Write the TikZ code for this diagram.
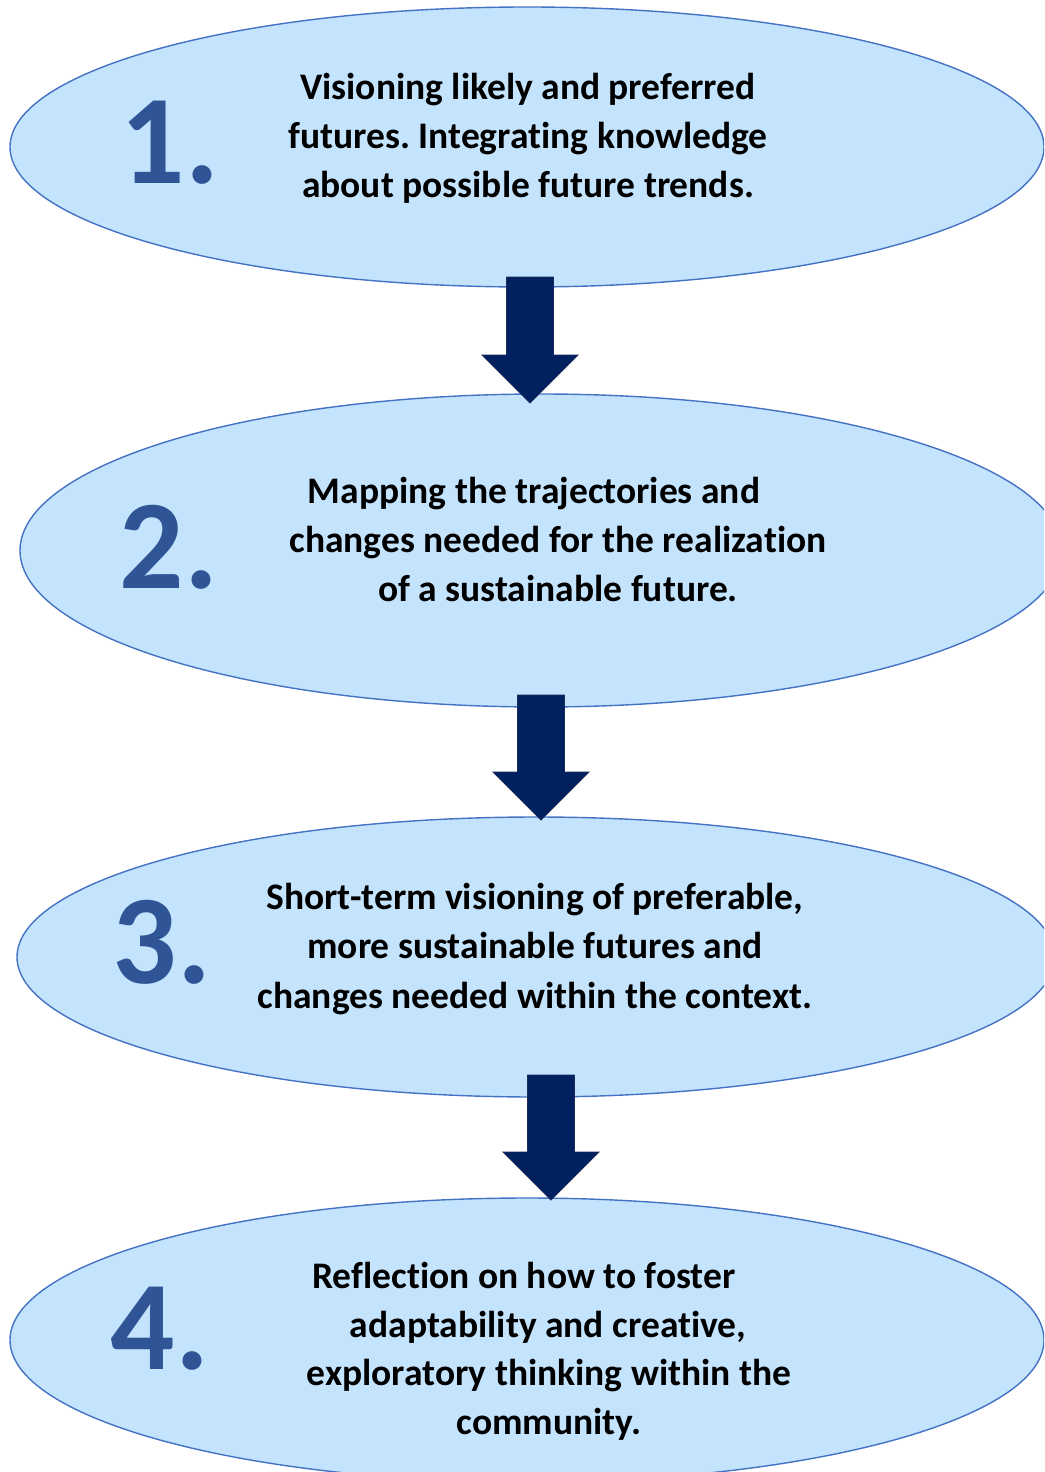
\documentclass[tikz,border=0pt]{standalone}
\usepackage{fontspec}
\setmainfont{Carlito}[Ligatures={NoCommon,NoRare,NoContextual}]
\frenchspacing
\usetikzlibrary{shapes.geometric,calc}
\definecolor{ellfill}{HTML}{C4E3FD}
\definecolor{elldraw}{HTML}{4472C4}
\definecolor{numblue}{HTML}{2F5597}
\definecolor{arrfill}{HTML}{002060}
\definecolor{arrdraw}{HTML}{1A2B5C}
\tikzset{
  stage/.style={ellipse, draw=elldraw, fill=ellfill, line width=1.4pt, inner sep=0pt},
  numtxt/.style={anchor=base, text=numblue, font=\bfseries\fontsize{127}{127}\selectfont, inner sep=0pt},
  linetxt/.style={anchor=base, text=black, font=\bfseries\fontsize{37.5}{45}\selectfont, inner sep=0pt},
  blockarr/.style={fill=arrfill, draw=arrdraw, line width=0.8pt, line join=miter},
}
\newcommand\blockarrow[2]{%
  \draw[blockarr] ($(#1)+(-23.5,0)$) -- ($(#1)+(23.5,0)$) -- ($(#2)+(23.5,-48)$) -- ($(#2)+(48,-48)$) -- (#2) -- ($(#2)+(-48,-48)$) -- ($(#2)+(-23.5,-48)$) -- cycle;}
\begin{document}
\begin{tikzpicture}[x=1pt,y=-1pt]
\useasboundingbox (0,0) rectangle (1044,1472);
\clip (0,0) rectangle (1044,1472);
% stages
\node[stage, minimum width=1034pt, minimum height=280pt] (e1) at (527,147) {};
\node[stage, minimum width=1042pt, minimum height=313pt] (e2) at (541,550.5) {};
\node[stage, minimum width=1038pt, minimum height=280pt] (e3) at (536,957) {};
\node[stage, minimum width=1034pt, minimum height=284pt] (e4) at (527,1340) {};
% numbers
\node[numtxt] (n1) at (170,183) {1.};
\node[numtxt] (n2) at (169,588) {2.};
\node[numtxt] (n3) at (162,983) {3.};
\node[numtxt] (n4) at (160,1369) {4.};
% texts
\node[linetxt] (t1a) at (528,99.5) {Visioning likely and preferred};
\node[linetxt] (t1b) at (528,148.5) {futures. Integrating knowledge};
\node[linetxt] (t1c) at (528,197.5) {about possible future trends.};
\node[linetxt] (t2a) at (534,503.5) {Mapping the trajectories and};
\node[linetxt] (t2b) at (558,552.5) {changes needed for the realization};
\node[linetxt] (t2c) at (558,601.5) {of a sustainable future.};
\node[linetxt] (t3a) at (535,909.5) {Short-term visioning of preferable,};
\node[linetxt] (t3b) at (535,958.5) {more sustainable futures and};
\node[linetxt] (t3c) at (535,1008.5) {changes needed within the context.};
\node[linetxt] (t4a) at (524,1288.5) {Reflection on how to foster};
\node[linetxt] (t4b) at (548,1337.5) {adaptability and creative,};
\node[linetxt] (t4c) at (549,1385.5) {exploratory thinking within the};
\node[linetxt] (t4d) at (549,1434.5) {community.};
% arrows
\coordinate (a1top) at (530,277); \coordinate (a1tip) at (530,403);
\coordinate (a2top) at (541,695); \coordinate (a2tip) at (541,820);
\coordinate (a3top) at (551,1075); \coordinate (a3tip) at (551,1200);
\blockarrow{a1top}{a1tip}
\blockarrow{a2top}{a2tip}
\blockarrow{a3top}{a3tip}
\end{tikzpicture}
\end{document}
